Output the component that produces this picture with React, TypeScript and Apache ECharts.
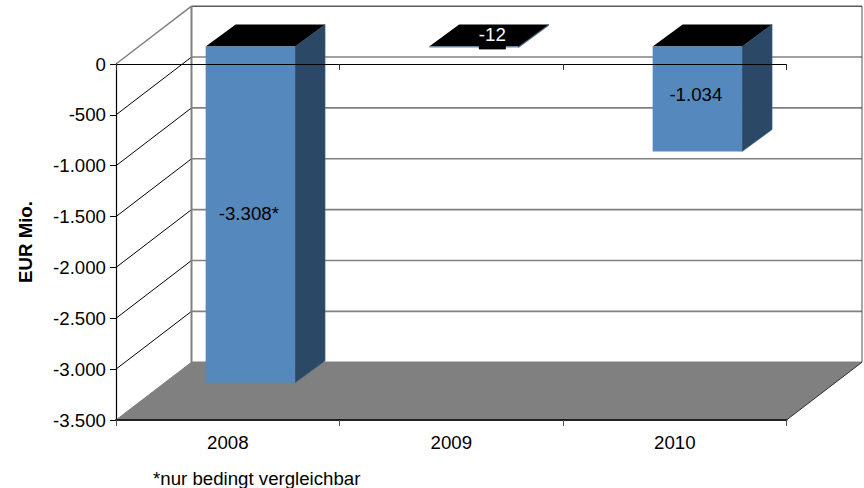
import React, { useEffect, useRef } from "react";
import * as echarts from "echarts";

const categories = ["2008", "2009", "2010"];
const barValues = [-3308, -12, -1034];
const barLabels = ["-3.308*", "-12", "-1.034"];
const yTicks = [0, -500, -1000, -1500, -2000, -2500, -3000, -3500];
const yTickLabels = ["0", "-500", "-1.000", "-1.500", "-2.000", "-2.500", "-3.000", "-3.500"];
const axisTitle = "EUR Mio.";
const footnote = "*nur bedingt vergleichbar";

// Oblique projection of the 3D box: screen offset of the back wall and of the bars.
const WALL_DX = 75.5;
const WALL_DY = -57.8;
const BAR_SHIFT_X = 22.6;
const BAR_SHIFT_Y = -17.6;
const BAR_DX = 30;
const BAR_DY = -22;
const BAR_WIDTH_RATIO = 0.4;
// Where each value label sits relative to its bar's front face centre.
const LABEL_NUDGE: [number, number][] = [[-1.5, -1.5], [18.5, 0], [-1.5, -4.5]];

const FONT = "'Liberation Sans', Arial, sans-serif";
const FONT_SIZE = 18.67;

const line = (x1: number, y1: number, x2: number, y2: number, stroke: string, lineWidth: number) => ({
  type: "line",
  shape: { x1, y1, x2, y2 },
  style: { stroke, lineWidth, fill: "none" },
});

const poly = (points: number[][], fill: string, stroke?: string, lineWidth = 0) => ({
  type: "polygon",
  shape: { points },
  style: { fill, stroke: stroke ?? fill, lineWidth },
});

// Side wall and back wall rule for one value tick.
const renderGridRule = (_: any, api: any) => {
  const band = api.size([1, 0])[0];
  const [cx, y] = api.coord([0, api.value(1)]);
  const left = cx - band / 2;
  const right = left + band * categories.length;
  const isTop = api.value(1) === 0;
  const isFloor = api.value(1) === yTicks[yTicks.length - 1];
  const backY = y + WALL_DY;
  return {
    type: "group",
    children: [
      line(left, y, left + WALL_DX, backY, isTop || isFloor ? "#808080" : "#000000", isTop ? 1.5 : 1),
      line(left + WALL_DX, backY, right + WALL_DX, backY, isTop ? "#5a5a5a" : "#808080", isTop ? 1.5 : 1.6),
    ],
  };
};

// Floor plate and the upright edges of the back wall.
const renderFloor = (_: any, api: any) => {
  const band = api.size([1, 0])[0];
  const [cx, bottom] = api.coord([0, yTicks[yTicks.length - 1]]);
  const top = api.coord([0, yTicks[0]])[1];
  const left = cx - band / 2;
  const right = left + band * categories.length;
  return {
    type: "group",
    children: [
      line(left + WALL_DX, top + WALL_DY, left + WALL_DX, bottom + WALL_DY, "#808080", 2),
      line(right + WALL_DX, top + WALL_DY, right + WALL_DX, bottom + WALL_DY, "#505050", 1),
      poly(
        [
          [left, bottom],
          [right, bottom],
          [right + WALL_DX, bottom + WALL_DY],
          [left + WALL_DX, bottom + WALL_DY],
        ],
        "#808080",
      ),
      line(right, bottom, right + WALL_DX, bottom + WALL_DY, "#303030", 1),
    ],
  };
};

// One extruded column with its value label. A column too flat to hold its label
// gets the label on the black top face, over a small black plate.
const renderBar = (params: any, api: any) => {
  const i = api.value(0);
  const value = api.value(1);
  const width = api.size([1, 0])[0] * BAR_WIDTH_RATIO;
  const [cx, yValue] = api.coord([i, value]);
  const yZero = api.coord([i, 0])[1];
  const x0 = cx + BAR_SHIFT_X - width / 2;
  const x1 = x0 + width;
  const y0 = yZero + BAR_SHIFT_Y;
  const y1 = yValue + BAR_SHIFT_Y;
  const [nudgeX, nudgeY] = LABEL_NUDGE[params.dataIndex];
  const onBlack = Math.abs(y1 - y0) < 10;
  const labelX = x0 + width / 2 + nudgeX;
  const plate = onBlack
    ? [
        {
          type: "rect",
          shape: { x: labelX - 13.5, y: y0 + BAR_DY / 2, width: 27, height: 14 },
          style: { fill: "#000000" },
        },
      ]
    : [];
  return {
    type: "group",
    children: [
      poly([[x1, y0], [x1 + BAR_DX, y0 + BAR_DY], [x1 + BAR_DX, y1 + BAR_DY], [x1, y1]], "#2b4966", "#3d6285", 0.6),
      poly([[x0, y0], [x1, y0], [x1 + BAR_DX, y0 + BAR_DY], [x0 + BAR_DX, y0 + BAR_DY]], "#000000"),
      {
        type: "rect",
        shape: { x: x0, y: y0, width, height: y1 - y0 },
        style: { fill: "#5589bd" },
      },
      ...plate,
      {
        type: "text",
        x: labelX,
        y: onBlack ? y0 - 11.5 : (y0 + y1) / 2 + nudgeY,
        style: {
          text: barLabels[params.dataIndex],
          font: `${FONT_SIZE}px ${FONT}`,
          fill: onBlack ? "#ffffff" : "#000000",
          align: "center",
          verticalAlign: "middle",
        },
      },
    ],
  };
};

const labelStyle = { color: "#000000", fontFamily: FONT, fontSize: FONT_SIZE };

export default function App() {
  const ref = useRef<HTMLDivElement>(null);

  useEffect(() => {
    const chart = echarts.init(ref.current!, undefined, { renderer: "svg" });
    chart.setOption({
      animation: false,
      backgroundColor: "#ffffff",
      grid: { left: 116, right: 77.5, top: 64, bottom: 68 },
      xAxis: [
        {
          type: "category",
          data: categories,
          position: "bottom",
          z: 5,
          axisLine: { onZero: false, lineStyle: { color: "#202020", width: 2 } },
          axisTick: { show: true, length: 6, lineStyle: { color: "#505050", width: 1 } },
          axisLabel: { ...labelStyle, margin: 13 },
          splitLine: { show: false },
        },
        {
          type: "category",
          data: categories,
          position: "top",
          z: 5,
          axisLine: { onZero: false, lineStyle: { color: "#000000", width: 1 } },
          axisTick: { show: true, inside: true, length: 6, lineStyle: { color: "#303030", width: 1 } },
          axisLabel: { show: false },
          splitLine: { show: false },
        },
      ],
      yAxis: {
        type: "value",
        min: -3500,
        max: 0,
        interval: 500,
        z: 5,
        name: axisTitle,
        nameLocation: "middle",
        nameRotate: 90,
        nameGap: 81,
        nameTextStyle: { ...labelStyle, fontWeight: "bold" },
        axisLine: { show: true, lineStyle: { color: "#000000", width: 1.2 } },
        axisTick: { show: true, length: 6, lineStyle: { color: "#000000", width: 1 } },
        axisLabel: {
          ...labelStyle,
          margin: 10,
          formatter: (v: number) => yTickLabels[yTicks.indexOf(v)],
        },
        splitLine: { show: false },
      },
      graphic: [
        {
          type: "text",
          x: 153,
          y: 478,
          style: {
            text: footnote,
            font: `${FONT_SIZE}px ${FONT}`,
            fill: "#000000",
            verticalAlign: "middle",
          },
        },
      ],
      series: [
        {
          type: "custom",
          name: "rules",
          z: 1,
          silent: true,
          xAxisIndex: 0,
          data: yTicks.map((v) => [0, v]),
          encode: { x: 0, y: 1 },
          renderItem: renderGridRule,
        },
        {
          type: "custom",
          name: "floor",
          z: 2,
          silent: true,
          xAxisIndex: 0,
          data: [[0, yTicks[yTicks.length - 1]]],
          encode: { x: 0, y: 1 },
          renderItem: renderFloor,
        },
        {
          type: "custom",
          name: "columns",
          z: 3,
          silent: true,
          xAxisIndex: 0,
          data: barValues.map((v, i) => [i, v]),
          encode: { x: 0, y: 1 },
          renderItem: renderBar,
        },
      ],
    });
    return () => chart.dispose();
  }, []);

  return <div ref={ref} style={{ position: "fixed", left: 0, top: 0, width: 864, height: 488 }} />;
}
